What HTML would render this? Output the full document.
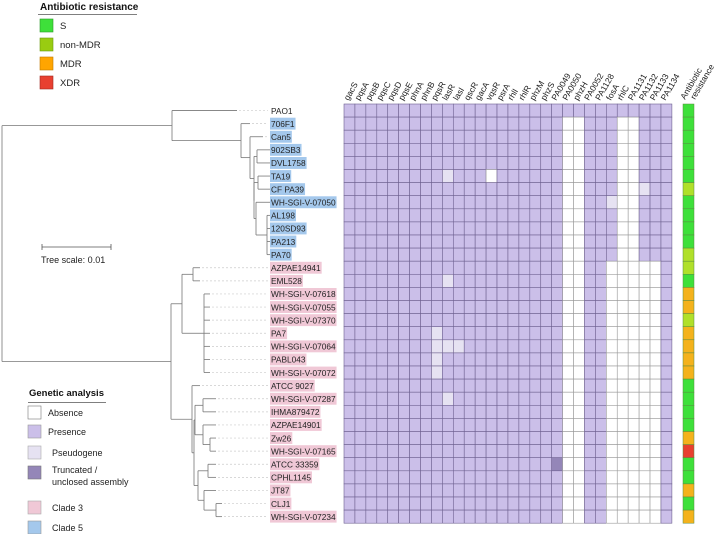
<!DOCTYPE html>
<html><head><meta charset="utf-8"><style>
html,body{margin:0;padding:0;background:#fff;}
svg{display:block;font-family:"Liberation Sans",Arial,sans-serif;}
</style></head><body>
<svg id="fig" width="720" height="534" viewBox="0 0 720 534" xmlns="http://www.w3.org/2000/svg">
<g id="legendAbx">
<text x="40" y="10" font-size="10" font-weight="bold" fill="#111">Antibiotic resistance</text>
<line x1="38" y1="14.5" x2="137" y2="14.5" stroke="#555" stroke-width="0.8"/>
<rect x="40" y="19" width="13" height="13" fill="#3ee03a" stroke="#2a9a28" stroke-width="0.6"/><text x="60" y="29" font-size="9.5" fill="#222">S</text>
<rect x="40" y="38" width="13" height="13" fill="#99cc11" stroke="#6a9a10" stroke-width="0.6"/><text x="60" y="48" font-size="9.5" fill="#222">non-MDR</text>
<rect x="40" y="57" width="13" height="13" fill="#ffa500" stroke="#c07a00" stroke-width="0.6"/><text x="60" y="67" font-size="9.5" fill="#222">MDR</text>
<rect x="40" y="76" width="13" height="13" fill="#e84030" stroke="#a02a20" stroke-width="0.6"/><text x="60" y="86" font-size="9.5" fill="#222">XDR</text>
</g>
<g id="legendGen">
<text x="29" y="396" font-size="9.5" font-weight="bold" fill="#111">Genetic analysis</text>
<line x1="28" y1="402.5" x2="106" y2="402.5" stroke="#555" stroke-width="0.8"/>
<rect x="28" y="406" width="13" height="13" fill="#fff" stroke="#777" stroke-width="0.6"/><text x="48" y="416" font-size="9" fill="#222">Absence</text>
<rect x="28" y="425" width="13" height="13" fill="#cbbfe9" stroke="#999" stroke-width="0.6"/><text x="48" y="435" font-size="9" fill="#222">Presence</text>
<rect x="28" y="446" width="13" height="13" fill="#e6e2f2" stroke="#aaa" stroke-width="0.6"/><text x="52" y="456" font-size="9" fill="#222">Pseudogene</text>
<rect x="28" y="466" width="13" height="13" fill="#9486b8" stroke="#777" stroke-width="0.6"/><text x="52" y="473" font-size="9" fill="#222">Truncated /</text><text x="52" y="485" font-size="9" fill="#222">unclosed assembly</text>
<rect x="28" y="501" width="13" height="13" fill="#f0c8d6" stroke="#aaa" stroke-width="0.6"/><text x="52" y="511" font-size="9" fill="#222">Clade 3</text>
<rect x="28" y="521" width="13" height="13" fill="#a4c8ec" stroke="#999" stroke-width="0.6"/><text x="52" y="531" font-size="9" fill="#222">Clade 5</text>
</g>
<g id="scale">
<line x1="42" y1="247" x2="111" y2="247" stroke="#555" stroke-width="0.8"/>
<line x1="42" y1="244" x2="42" y2="250" stroke="#555" stroke-width="0.8"/>
<line x1="111" y1="244" x2="111" y2="250" stroke="#555" stroke-width="0.8"/>
<text x="41" y="263" font-size="9" fill="#222">Tree scale: 0.01</text>
</g>
<g id="tree"></g>
<g id="labels"></g>
<g id="heat"></g>
<g id="cols"></g>
</svg>
<script>
const strains = ["PAO1","706F1","Can5","902SB3","DVL1758","TA19","CF PA39","WH-SGI-V-07050","AL198","120SD93","PA213","PA70","AZPAE14941","EML528","WH-SGI-V-07618","WH-SGI-V-07055","WH-SGI-V-07370","PA7","WH-SGI-V-07064","PABL043","WH-SGI-V-07072","ATCC 9027","WH-SGI-V-07287","IHMA879472","AZPAE14901","Zw26","WH-SGI-V-07165","ATCC 33359","CPHL1145","JT87","CLJ1","WH-SGI-V-07234"];
const clades = ["","5","5","5","5","5","5","5","5","5","5","5","3","3","3","3","3","3","3","3","3","3","3","3","3","3","3","3","3","3","3","3"];
const genes = ["gacS","pqsA","pqsB","pqsC","pqsD","pqsE","phnA","phnB","pqsR","lasR","lasI","qscR","gacA","vqsR","psrA","rhlI","rhlR","phzM","phzS","PA0049","PA0050","phzH","PA0052","PA1128","fosA","rhlC","PA1131","PA1132","PA1133","PA1134"];
const status = [
"PPPPPPPPPPPPPPPPPPPPPPPPPPPPPP",
"PPPPPPPPPPPPPPPPPPPPAAPPPAAPPP",
"PPPPPPPPPPPPPPPPPPPPAAPPPAAPPP",
"PPPPPPPPPPPPPPPPPPPPAAPPPAAPPP",
"PPPPPPPPPPPPPPPPPPPPAAPPPAAPPP",
"PPPPPPPPPSPPPAPPPPPPAAPPPAAPPP",
"PPPPPPPPPPPPPPPPPPPPAAPPPAASPP",
"PPPPPPPPPPPPPPPPPPPPAAPPSAAPPP",
"PPPPPPPPPPPPPPPPPPPPAAPPPAAPPP",
"PPPPPPPPPPPPPPPPPPPPAAPPPAAPPP",
"PPPPPPPPPPPPPPPPPPPPAAPPPAAPPP",
"PPPPPPPPPPPPPPPPPPPPAAPPPAAPPP",
"PPPPPPPPPPPPPPPPPPPPAAPPAAAAAP",
"PPPPPPPPPSPPPPPPPPPPAAPPAAAAAP",
"PPPPPPPPPPPPPPPPPPPPAAPPAAAAAP",
"PPPPPPPPPPPPPPPPPPPPAAPPAAAAAP",
"PPPPPPPPPPPPPPPPPPPPAAPPAAAAAP",
"PPPPPPPPSPPPPPPPPPPPAAPPAAAAAP",
"PPPPPPPPSSSPPPPPPPPPAAPPAAAAAP",
"PPPPPPPPSPPPPPPPPPPPAAPPAAAAAP",
"PPPPPPPPSPPPPPPPPPPPAAPPAAAAAP",
"PPPPPPPPPPPPPPPPPPPPAAPPAAAAAP",
"PPPPPPPPPSPPPPPPPPPPAAPPAAAAAP",
"PPPPPPPPPPPPPPPPPPPPAAPPAAAAAP",
"PPPPPPPPPPPPPPPPPPPPAAPPAAAAAP",
"PPPPPPPPPPPPPPPPPPPPAAPPAAAAAP",
"PPPPPPPPPPPPPPPPPPPPAAPPAAAAAP",
"PPPPPPPPPPPPPPPPPPPTAAPPAAAAAP",
"PPPPPPPPPPPPPPPPPPPPAAPPAAAAAP",
"PPPPPPPPPPPPPPPPPPPPAAPPAAAAAP",
"PPPPPPPPPPPPPPPPPPPPAAPPAAAAAP",
"PPPPPPPPPPPPPPPPPPPPAAPPAAAAAP"];
const resistance = ["S","S","S","S","S","S","N","S","S","S","S","N","N","S","M","M","N","M","M","M","M","S","S","S","S","M","X","S","S","M","S","M"];

const NS="http://www.w3.org/2000/svg";
const gridX0=344, cellW=10.93, gridY0=104, cellH=13.1, abxX=683, abxW=11;
const colX=i=>gridX0+i*cellW;
const rowY=i=>gridY0+i*cellH;
const rowC=i=>rowY(i)+cellH/2;
function mk(tag,attrs,parent){const e=document.createElementNS(NS,tag);for(const k in attrs)e.setAttribute(k,attrs[k]);parent.appendChild(e);return e;}
const fillMap={P:"#cbbfe9",A:"#ffffff",S:"#e6e2f2",T:"#9486b8"};
const abxMap={S:"#3ee03a",N:"#b0e02a",M:"#f4b21c",X:"#e84030"};
const heat=document.getElementById('heat');
status.forEach((row,r)=>{
  for(let c=0;c<genes.length;c++){
    const ch=row[c];
    const rc=mk('rect',{x:colX(c),y:rowY(r),width:cellW,height:cellH,fill:fillMap[ch],stroke:ch==="A"?"#9a9a9a":"#6e6190","stroke-width":0.6},heat);
    
    
  }
  const ab=mk('rect',{x:abxX,y:rowY(r),width:abxW,height:cellH,fill:abxMap[resistance[r]],stroke:"#5a8a40","stroke-width":0.5},heat);
  
  
});
const cols=document.getElementById('cols');
genes.forEach((g,c)=>{
  const x=colX(c)+cellW/2-1, y=gridY0-3;
  const t=mk('text',{x:x,y:y,"font-size":8.5,fill:"#222",transform:`rotate(-60 ${x} ${y})`},cols);
  t.textContent=g;
  
  
});
{
  const x=abxX+2,y=gridY0-4;
  const t1=mk('text',{x:x,y:y,"font-size":8.5,fill:"#222",transform:`rotate(-60 ${x} ${y})`},cols);t1.textContent="Antibiotic";
  
  
  const x2=x+10,y2=y;
  const t2=mk('text',{x:x2,y:y2,"font-size":8.5,fill:"#222",transform:`rotate(-60 ${x2} ${y2})`},cols);t2.textContent="resistance";
  
  
}
const labels=document.getElementById('labels');
const labelX=271;
strains.forEach((s,i)=>{
  const t=mk('text',{x:labelX,y:rowC(i)+3.2,"font-size":8.3,fill:"#222"},labels);
  t.textContent=s;
  
  
  if(clades[i]){
    const w=t.getComputedTextLength();
    const bg=document.createElementNS(NS,'rect');
    bg.setAttribute('x',labelX-1);bg.setAttribute('y',rowY(i)+0.6);bg.setAttribute('width',w+2);bg.setAttribute('height',cellH-1.2);
    bg.setAttribute('fill',clades[i]==="5"?"#a4c8ec":"#f0c8d6");
    
    
    labels.insertBefore(bg,t);
  }
});
const treeData={x:2,c:[
 {x:172,c:[{l:0,e:237},{x:241,c:[{l:1,e:250},{x:250,c:[{l:2,e:263},{x:254,c:[{x:257,c:[{l:3,e:270},{l:4,e:270}]},{x:254,c:[{x:258,c:[{l:5,e:270},{l:6,e:270}]},{x:256,c:[{l:7,e:270},{x:267,c:[{l:8,e:270},{l:9,e:270},{l:10,e:270},{l:11,e:270}]}]}]}]}]}]}]},
 {x:171,c:[
   {x:182,c:[{x:193,c:[{l:12,e:200},{l:13,e:200}]},{x:192,c:[{x:204,c:[{l:14,e:210},{l:15,e:210},{l:16,e:210},{l:17,e:210},{l:18,e:210},{l:19,e:210},{l:20,e:210}]}]}]},
   {x:192,c:[{l:21,e:200},{x:194,c:[{x:195,c:[{x:203,c:[{l:22,e:216},{l:23,e:216}]},{x:203,c:[{l:24,e:216},{x:210,c:[{l:25,e:216},{l:26,e:216}]}]}]},{x:198,c:[{x:208,c:[{l:27,e:216},{l:28,e:216}]},{x:204,c:[{l:29,e:216},{x:216,c:[{l:30,e:222},{l:31,e:222}]}]}]}]}]}
 ]}
]};
const tree=document.getElementById('tree');
function draw(n){
  if(n.l!==undefined){return rowC(n.l);}
  const ys=n.c.map(ch=>{const y=draw(ch);const ex=ch.l!==undefined?ch.e:ch.x;
    const h=mk('line',{x1:n.x,y1:y,x2:ex,y2:y,stroke:"#777","stroke-width":0.8},tree);
    
    
    if(ch.l!==undefined && ch.e<labelX-3){
      const d=mk('line',{x1:ch.e+2,y1:y,x2:labelX-3,y2:y,stroke:"#ccc","stroke-width":0.7,"stroke-dasharray":"2,2"},tree);
      
      
    }
    return y;});
  const v=mk('line',{x1:n.x,y1:Math.min(...ys),x2:n.x,y2:Math.max(...ys),stroke:"#777","stroke-width":0.8},tree);
  
  
  return (Math.min(...ys)+Math.max(...ys))/2;
}
draw(treeData);
</script>
</body></html>
